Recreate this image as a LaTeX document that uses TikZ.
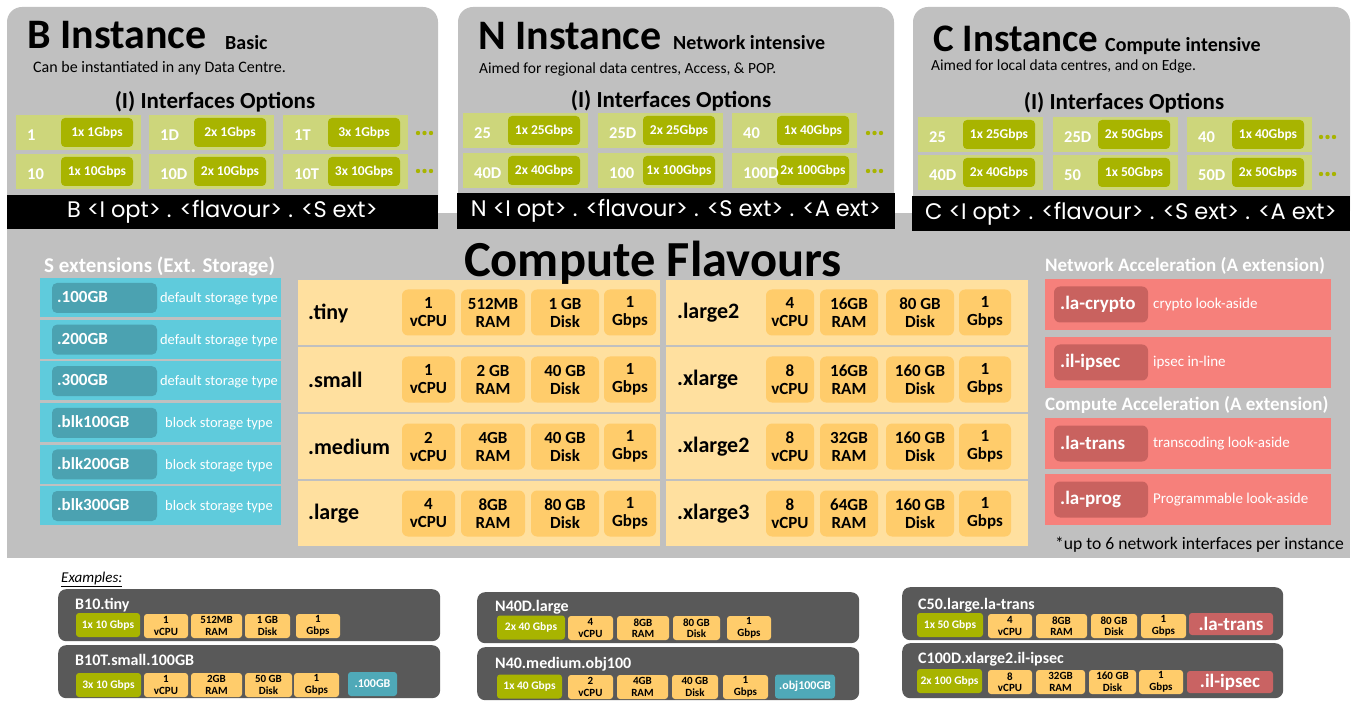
\documentclass[tikz,border=0pt]{standalone}
\usepackage{fontspec}
\setmainfont{Carlito}
\newfontfamily\comicf{Poppins}
\definecolor{pgray}{HTML}{C0C0C0}
\definecolor{lgreen}{HTML}{CDD67B}
\definecolor{dgreen}{HTML}{A8B400}
\definecolor{flbg}{HTML}{FFE09F}
\definecolor{flchip}{HTML}{FFCC6B}
\definecolor{cyanbg}{HTML}{5FCBDC}
\definecolor{cyandk}{HTML}{4BA2B1}
\definecolor{redbg}{HTML}{F6807B}
\definecolor{reddk}{HTML}{C9625F}
\definecolor{exgray}{HTML}{595959}
\definecolor{excyan}{HTML}{4FA9B8}
\definecolor{exred}{HTML}{C96363}
\newcommand\fsz[2]{\fontsize{#1}{#2}\selectfont}
\tikzset{
 ttl/.style={anchor=base west, inner sep=0, font=\bfseries\fsz{42}{46}},
 subt/.style={anchor=base west, inner sep=0, font=\bfseries\fsz{20}{22}},
 note/.style={anchor=base west, inner sep=0, font=\fsz{15.5}{17}},
 ioh/.style={anchor=base, inner sep=0, font=\bfseries\fsz{23}{25}},
 ifcell/.style={fill=lgreen, minimum width=125pt, minimum height=35pt, inner sep=0, anchor=north west},
 ifin/.style={fill=dgreen, rounded corners=4pt, minimum width=72pt, minimum height=29pt, inner sep=0, text=white, font=\bfseries\fsz{13.5}{15}},
 iflab/.style={text=white, font=\bfseries\fsz{16.5}{18}, anchor=west, inner sep=0},
 fbar/.style={fill=black, text=white, inner sep=0, minimum height=35pt, minimum width=438pt, font=\comicf\fsz{22.5}{24}},
 flrow/.style={fill=flbg, anchor=north west, minimum width=362pt, minimum height=65pt, inner sep=0},
 fllab/.style={anchor=west, inner sep=0, font=\bfseries\fsz{22}{24}},
 chip/.style={fill=flchip, rounded corners=6pt, minimum height=46pt, inner sep=0, align=center, font=\bfseries\fsz{17}{18}},
 srow/.style={fill=cyanbg, anchor=north west, minimum width=241pt, minimum height=39pt, inner sep=0},
 sin/.style={fill=cyandk, rounded corners=5pt, minimum width=105pt, minimum height=30pt, inner sep=0},
 slab/.style={anchor=west, inner sep=0, text=white, font=\bfseries\fsz{17}{19}},
 sdesc/.style={inner sep=0, text=white, font=\fsz{14.5}{16}},
 whd/.style={anchor=base west, inner sep=0, text=white, font=\bfseries\fsz{19}{21}},
 arow/.style={fill=redbg, anchor=north west, minimum width=286pt, minimum height=51pt, inner sep=0},
 ain/.style={fill=reddk, rounded corners=6pt, minimum width=94pt, minimum height=36pt, inner sep=0},
 alab/.style={anchor=west, inner sep=0, text=white, font=\bfseries\fsz{19}{21}},
 adesc/.style={anchor=west, inner sep=0, text=white, font=\fsz{15}{17}},
 exbox/.style={fill=exgray, rounded corners=8pt, anchor=north west, inner sep=0, minimum width=382pt},
 extl/.style={anchor=base west, inner sep=0, text=white, font=\bfseries\fsz{16}{18}},
 exg/.style={fill=dgreen, rounded corners=3pt, minimum height=24pt, inner sep=0, text=white, font=\bfseries\fsz{11.5}{13}},
 exo/.style={fill=flchip, rounded corners=3pt, minimum height=24pt, inner sep=0, align=center, font=\bfseries\fsz{11}{11.5}},
 exc/.style={fill=excyan, rounded corners=3pt, minimum height=24pt, inner sep=0, text=white, font=\bfseries\fsz{12}{14}},
 exr/.style={fill=exred, rounded corners=3pt, minimum height=22pt, inner sep=0, text=white, font=\bfseries\fsz{19}{21}},
}
\newcommand\ifopt[5]{%
 \node[ifcell] (#1) at (#2,#3) {};
 \node[ifin] (#1i) at (#2+81,#3+17.5) {#5};
 \node[iflab] (#1l) at (#2+11,#3+20) {#4};}
\newcommand\ifdots[2]{\foreach \k in {0,1,2} \fill[dgreen] (#1+\k*6.5,#2) circle (2.2pt);}
\begin{document}
\begin{tikzpicture}[x=1pt,y=-1pt]
\useasboundingbox (0,0) rectangle (1357,708);
\fill[white] (0,0) rectangle (1357,708);
% panels
\fill[pgray, rounded corners=15pt] (7,7) rectangle (438,226);
\fill[pgray, rounded corners=15pt] (458,7) rectangle (894,226);
\fill[pgray, rounded corners=15pt] (913,7) rectangle (1350,226);
\fill[pgray] (7,213) rectangle (1350,558);
% B instance
\node[ttl] (tB) at (27,49) {B Instance};
\node[subt] (sB) at (225,50) {Basic};
\node[note, font=\fsz{16}{18}] (nB) at (33,73) {Can be instantiated in any Data Centre.};
\node[ioh] (iB) at (215,109) {(I) Interfaces Options};
\ifopt{B1}{16}{115}{1}{1x 1Gbps}
\ifopt{B2}{149}{115}{1D}{2x 1Gbps}
\ifopt{B3}{283}{115}{1T}{3x 1Gbps}
\ifopt{B4}{16}{154}{10}{1x 10Gbps}
\ifopt{B5}{149}{154}{10D}{2x 10Gbps}
\ifopt{B6}{283}{154}{10T}{3x 10Gbps}
\ifdots{418}{133}\ifdots{418}{171}
\node[fbar, minimum width=431pt, minimum height=34pt] (fB) at (222.5,212) {B <I opt> . <flavour> . <S ext>};
% N instance
\node[ttl] (tN) at (478,50) {N Instance};
\node[subt] (sN) at (673,50) {Network intensive};
\node[note] (nN) at (479,74) {Aimed for regional data centres, Access, \& POP.};
\node[ioh] (iN) at (671,108) {(I) Interfaces Options};
\ifopt{N1}{463}{113}{25}{1x 25Gbps}
\ifopt{N2}{598}{113}{25D}{2x 25Gbps}
\ifopt{N3}{732}{113}{40}{1x 40Gbps}
\ifopt{N4}{463}{153}{40D}{2x 40Gbps}
\ifopt{N5}{598}{153}{100}{1x 100Gbps}
\ifopt{N6}{732}{153}{100D}{2x 100Gbps}
\ifdots{868}{133}\ifdots{868}{171}
\node[fbar, minimum height=36pt] (fN) at (676,211) {N <I opt> . <flavour> . <S ext> . <A ext>};
% C instance
\node[ttl, font=\bfseries\fsz{39}{43}] (tC) at (933,52) {C Instance};
\node[subt] (sC) at (1105,52) {Compute intensive};
\node[note] (nC) at (931,71) {Aimed for local data centres, and on Edge.};
\node[ioh] (iC) at (1124,110) {(I) Interfaces Options};
\ifopt{C1}{918}{117}{25}{1x 25Gbps}
\ifopt{C2}{1053}{117}{25D}{2x 50Gbps}
\ifopt{C3}{1187}{117}{40}{1x 40Gbps}
\ifopt{C4}{918}{155}{40D}{2x 40Gbps}
\ifopt{C5}{1053}{155}{50}{1x 50Gbps}
\ifopt{C6}{1187}{155}{50D}{2x 50Gbps}
\ifdots{1321}{137}\ifdots{1321}{174}
\node[fbar] (fC) at (1131,213.5) {C <I opt> . <flavour> . <S ext> . <A ext>};
% Compute flavours
\foreach \fn/\fc/\fr/\fd [count=\i] in {tiny/1/512MB/1 GB, small/1/2 GB/40 GB, medium/2/4GB/40 GB, large/4/8GB/80 GB}{
 \pgfmathsetmacro\yy{280+(\i-1)*67}
 \node[flrow] (L\i) at (298,\yy) {};
 \node[fllab] (L\i n) at (308,\yy+33) {.\fn};
 \node[chip, minimum width=53pt] (L\i c) at (428.5,\yy+32.5) {\fc\\vCPU};
 \node[chip, minimum width=64pt] (L\i r) at (493,\yy+32.5) {\fr\\RAM};
 \node[chip, minimum width=68pt] (L\i d) at (565,\yy+32.5) {\fd\\Disk};
 \node[chip, minimum width=52pt] (L\i g) at (630,\yy+32.5) {1\\Gbps};
}
\foreach \fn/\fc/\fr/\fd [count=\i] in {large2/4/16GB/80 GB, xlarge/8/16GB/160 GB, xlarge2/8/32GB/160 GB, xlarge3/8/64GB/160 GB}{
 \pgfmathsetmacro\yy{280+(\i-1)*67}
 \node[flrow] (R\i) at (666,\yy) {};
 \node[fllab] (R\i n) at (677,\yy+33) {.\fn};
 \node[chip, minimum width=48pt] (R\i c) at (790,\yy+32.5) {\fc\\vCPU};
 \node[chip, minimum width=58pt] (R\i r) at (849,\yy+32.5) {\fr\\RAM};
 \node[chip, minimum width=68pt] (R\i d) at (920,\yy+32.5) {\fd\\Disk};
 \node[chip, minimum width=52pt] (R\i g) at (985,\yy+32.5) {1\\Gbps};
}
\node[anchor=base, inner sep=0, font=\bfseries\fsz{50.5}{54}] (cf) at (653,277) {Compute Flavours};
% S extensions
\node[whd, font=\bfseries\fsz{21}{23}] (sh) at (44,273) {S extensions (Ext. Storage)};
\foreach \slab/\sdsc [count=\i] in {100GB/default storage type, 200GB/default storage type, 300GB/default storage type, blk100GB/block storage type, blk200GB/block storage type, blk300GB/block storage type}{
 \pgfmathsetmacro\yy{278+(\i-1)*41.6}
 \node[srow] (S\i) at (40,\yy) {};
 \node[sin] (S\i i) at (104.5,\yy+20) {};
 \node[slab] (S\i l) at (57,\yy+19) {.\slab};
 \node[sdesc] (S\i d) at (219,\yy+21) {\sdsc};
}
% Acceleration
\node[whd] (ah1) at (1045,272) {Network Acceleration (A extension)};
\node[whd] (ah2) at (1045,410) {Compute Acceleration (A extension)};
\foreach \alb/\adc/\yy [count=\i] in {la-crypto/crypto look-aside/279, il-ipsec/ipsec in-line/337, la-trans/transcoding look-aside/418, la-prog/Programmable look-aside/474}{
 \node[arow] (A\i) at (1045,\yy) {};
 \node[ain] (A\i i) at (1101,\yy+25.5) {};
 \node[alab] (A\i l) at (1060,\yy+25) {.\alb};
 \node[adesc] (A\i d) at (1153,\yy+26) {\adc};
}
\node[anchor=base west, inner sep=0, font=\fsz{17.6}{19}] (foot) at (1055,549) {*up to 6 network interfaces per instance};
% Examples
\node[anchor=base west, inner sep=0, font=\itshape\fsz{15}{17}] (exh) at (61,582) {\underline{Examples:}};
% B examples
\node[exbox, minimum height=52pt] (eB1) at (58,589) {};
\node[extl] (eB1t) at (75,609) {B10.tiny};
\node[exg, minimum width=64pt] (eB1g) at (108,625) {1x 10 Gbps};
\foreach \cx/\cw/\ct [count=\i] in {166/44/1\\vCPU, 216.5/51/512MB\\RAM, 267.5/45/1 GB\\Disk, 318/44/1\\Gbps}
 \node[exo, minimum width=\cw pt] (eB1o\i) at (\cx,626) {\ct};
\node[exbox, minimum height=53pt] (eB2) at (58,645) {};
\node[extl] (eB2t) at (75,665) {B10T.small.100GB};
\node[exg, minimum width=65pt] (eB2g) at (108.5,685) {3x 10 Gbps};
\foreach \cx/\cw/\ct [count=\i] in {166/44/1\\vCPU, 216.5/51/2GB\\RAM, 268.5/47/50 GB\\Disk, 316.5/45/1\\Gbps}
 \node[exo, minimum width=\cw pt] (eB2o\i) at (\cx,685) {\ct};
\node[exc, minimum width=49pt] (eB2c) at (372.5,684) {.100GB};
% N examples
\node[exbox, minimum height=51pt] (eN1) at (477,592) {};
\node[extl] (eN1t) at (495,611) {N40D.large};
\node[exg, minimum width=68pt] (eN1g) at (531,627.5) {2x 40 Gbps};
\foreach \cx/\cw/\ct [count=\i] in {590.5/45/4\\vCPU, 643/52/8GB\\RAM, 696.5/47/80 GB\\Disk, 749/44/1\\Gbps}
 \node[exo, minimum width=\cw pt] (eN1o\i) at (\cx,628) {\ct};
\node[exbox, minimum height=53pt] (eN2) at (477,647) {};
\node[extl] (eN2t) at (495,668) {N40.medium.obj100};
\node[exg, minimum width=65pt] (eN2g) at (529.5,686.5) {1x 40 Gbps};
\foreach \cx/\cw/\ct [count=\i] in {590.5/45/2\\vCPU, 642.5/51/4GB\\RAM, 695/46/40 GB\\Disk, 745.5/45/1\\Gbps}
 \node[exo, minimum width=\cw pt] (eN2o\i) at (\cx,687) {\ct};
\node[exc, minimum width=60pt] (eN2c) at (805,686.5) {.obj100GB};
% C examples
\node[exbox, minimum height=53pt, minimum width=381pt] (eC1) at (902,587) {};
\node[extl] (eC1t) at (918,609) {C50.large.la-trans};
\node[exg, minimum width=66pt] (eC1g) at (950,625) {1x 50 Gbps};
\foreach \cx/\cw/\ct [count=\i] in {1010/44/4\\vCPU, 1061.5/51/8GB\\RAM, 1114/46/80 GB\\Disk, 1163.5/45/1\\Gbps}
 \node[exo, minimum width=\cw pt] (eC1o\i) at (\cx,626) {\ct};
\node[exr, minimum width=84pt] (eC1r) at (1231,624) {.la-trans};
\node[exbox, minimum height=55pt, minimum width=381pt] (eC2) at (902,643) {};
\node[extl] (eC2t) at (918,663) {C100D.xlarge2.il-ipsec};
\node[exg, minimum width=65pt] (eC2g) at (949.5,681) {2x 100 Gbps};
\foreach \cx/\cw/\ct [count=\i] in {1010/44/8\\vCPU, 1060.5/49/32GB\\RAM, 1112.5/47/160 GB\\Disk, 1161/44/1\\Gbps}
 \node[exo, minimum width=\cw pt] (eC2o\i) at (\cx,682) {\ct};
\node[exr, minimum width=86pt] (eC2r) at (1230,682) {.il-ipsec};
\end{tikzpicture}
\end{document}
